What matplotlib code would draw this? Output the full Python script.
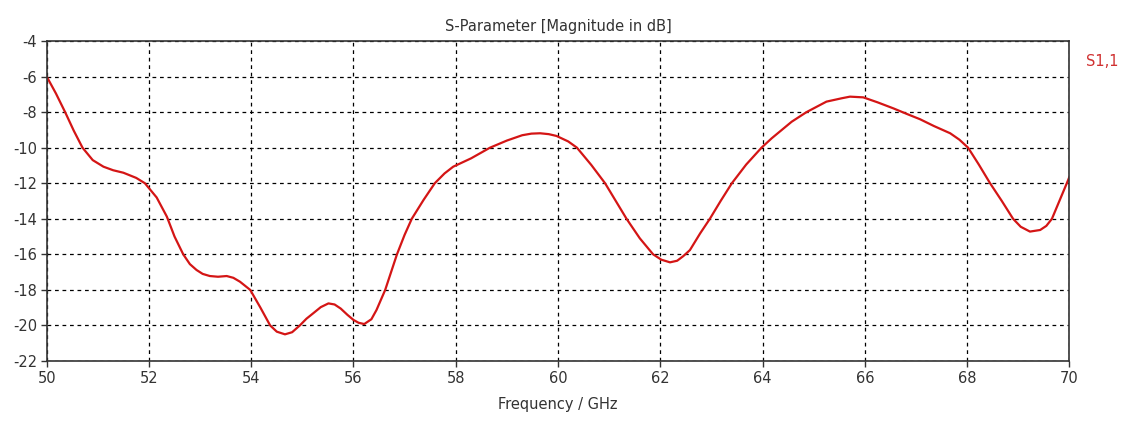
import matplotlib
matplotlib.use("Agg")
import matplotlib.pyplot as plt

plt.rcParams["axes.unicode_minus"] = False

# S1,1 magnitude
freq_ghz = [
    50.00, 50.18, 50.36, 50.53, 50.70, 50.90, 51.11, 51.30, 51.50, 51.75,
    51.92, 52.15, 52.35, 52.50, 52.67, 52.80, 52.93, 53.05, 53.19, 53.35,
    53.52, 53.65, 53.78, 53.98, 54.18, 54.37, 54.50, 54.66, 54.80, 54.95,
    55.08, 55.21, 55.36, 55.51, 55.63, 55.75, 55.88, 56.00, 56.10, 56.21,
    56.35, 56.45, 56.62, 56.85, 57.00, 57.14, 57.37, 57.59, 57.78, 57.95,
    58.30, 58.67, 59.00, 59.30, 59.48, 59.65, 59.82, 59.97, 60.20, 60.37,
    60.65, 60.92, 61.13, 61.34, 61.60, 61.86, 62.02, 62.19, 62.33, 62.45,
    62.58, 62.78, 62.97, 63.18, 63.40, 63.68, 63.98, 64.18, 64.57, 64.86,
    65.25, 65.55, 65.71, 65.97, 66.25, 66.56, 66.82, 67.08, 67.35, 67.67,
    67.85, 68.02, 68.23, 68.45, 68.68, 68.90, 69.05, 69.23, 69.43, 69.55,
    69.66, 69.82, 69.98, 70.00,
]
s11_db = [
    -6.00, -6.95, -8.00, -9.05, -10.00, -10.70, -11.07, -11.27, -11.41, -11.70,
    -12.00, -12.80, -13.88, -15.00, -16.00, -16.55, -16.88, -17.10, -17.22, -17.26,
    -17.22, -17.32, -17.54, -18.00, -19.00, -20.00, -20.35, -20.50, -20.38, -20.00,
    -19.62, -19.32, -18.97, -18.76, -18.82, -19.05, -19.40, -19.69, -19.85, -19.92,
    -19.65, -19.13, -18.00, -16.00, -14.90, -14.00, -12.94, -12.00, -11.45, -11.07,
    -10.60, -10.00, -9.60, -9.30, -9.21, -9.19, -9.24, -9.34, -9.65, -10.00,
    -10.97, -12.00, -13.00, -14.00, -15.10, -16.00, -16.30, -16.45, -16.36, -16.10,
    -15.76, -14.82, -14.00, -13.00, -12.00, -10.95, -10.00, -9.47, -8.54, -8.00,
    -7.41, -7.22, -7.13, -7.17, -7.45, -7.79, -8.10, -8.40, -8.78, -9.19,
    -9.55, -10.00, -10.95, -12.00, -13.00, -14.00, -14.45, -14.72, -14.63, -14.40,
    -14.00, -12.90, -11.80, -11.65,
]

x_ticks = list(range(50, 71, 2))
y_ticks = list(range(-22, -3, 2))

fig = plt.figure(figsize=(11.23, 4.21), dpi=100)
ax = fig.add_axes([0.0416, 0.1425, 0.9106, 0.7601])

ax.plot(freq_ghz, s11_db, color="#d41515", linewidth=1.6, solid_joinstyle="round")

ax.set_xlim(50, 70)
ax.set_ylim(-22, -4)
ax.set_xticks(x_ticks)
ax.set_yticks(y_ticks)
ax.grid(True, color="black", linestyle=(0, (3, 3)), linewidth=0.9)
ax.tick_params(direction="out", length=4, width=1, colors="#333333",
               labelsize=10.5, pad=3)
for sp in ax.spines.values():
    sp.set_color("#333333")
    sp.set_linewidth(1.2)

ax.set_title("S-Parameter [Magnitude in dB]", fontsize=10.5, color="#333333", pad=7)
ax.set_xlabel("Frequency / GHz", fontsize=10.5, color="#333333", labelpad=8)

fig.text(0.967, 0.855, "S1,1", color="#d03030", fontsize=10.5, ha="left", va="center")

fig.savefig("out.png", dpi=100)
